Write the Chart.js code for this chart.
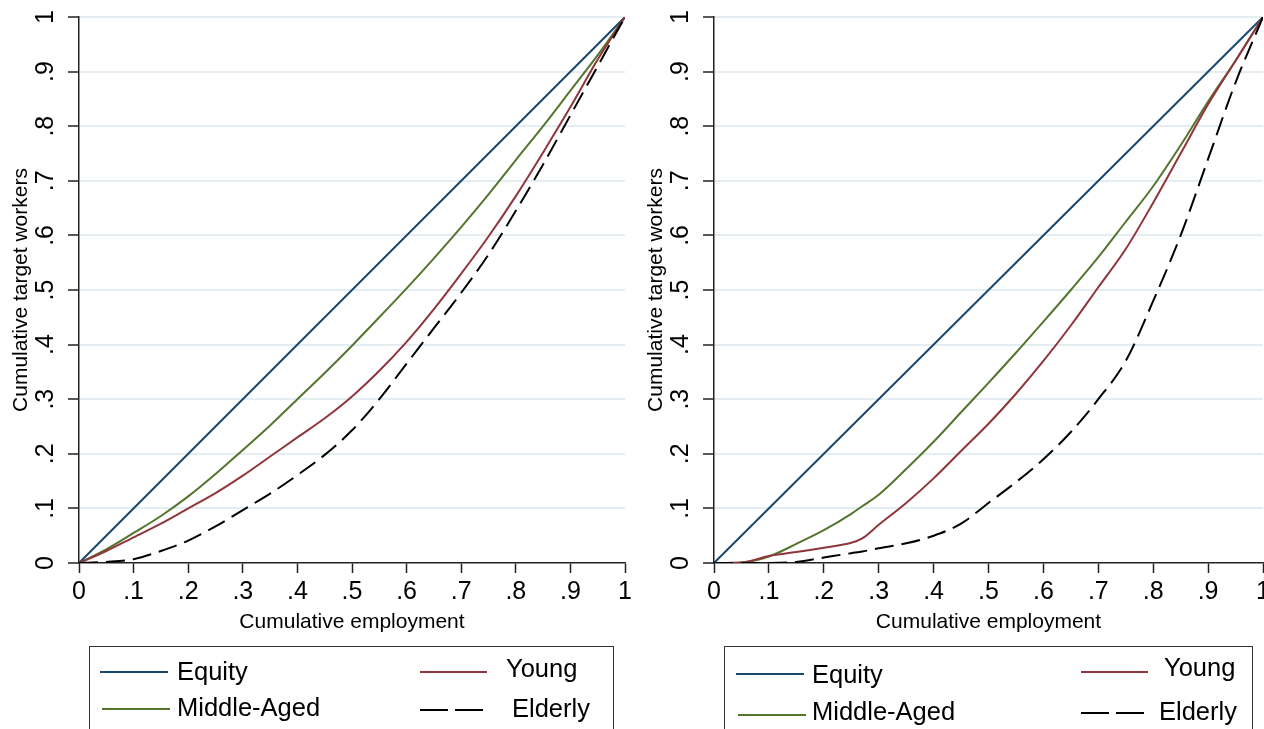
<!DOCTYPE html>
<html>
<head>
<meta charset="utf-8">
<script src="https://cdn.jsdelivr.net/npm/chart.js@4.4.1/dist/chart.umd.min.js"></script>
<style>
  html, body { margin: 0; padding: 0; background: #fff; width: 1264px; height: 729px; overflow: hidden; position: relative; }
  canvas { position: absolute; top: 0; }
  .legend { position: absolute; top: 646px; height: 110px; border: 1.5px solid #333; box-sizing: border-box; }
  .lab { position: absolute; font-family: "Liberation Sans", Arial, Helvetica, sans-serif; font-size: 25.5px; line-height: 25px; color: #000; white-space: nowrap; }
  #swatches { position: absolute; left: 0; top: 0; }
</style>
</head>
<body>
<canvas id="left" width="640" height="640" style="left:0px"></canvas>
<canvas id="right" width="640" height="640" style="left:635px"></canvas>
<div class="legend" style="left:89px;width:525px"></div>
<div class="legend" style="left:724px;width:529px"></div>
<svg id="swatches" width="1264" height="729"></svg>

<script>
// ---- datos ----
const tickValues = [0, .1, .2, .3, .4, .5, .6, .7, .8, .9, 1];
const tickLabels = ["0", ".1", ".2", ".3", ".4", ".5", ".6", ".7", ".8", ".9", "1"];
const xTitle = "Cumulative employment";
const yTitle = "Cumulative target workers";

const seriesNames = ["Equity", "Middle-Aged", "Young", "Elderly"];

const equityX = [0, 1];
const equityY = [0, 1];

// panel izquierdo
const leftX       = [0, .05, .1, .15, .2, .25, .3, .35, .4, .45, .5, .55, .6, .65, .7, .75, .8, .85, .9, .95, 1];
const leftMiddle  = [0, .025, .055, .086, .122, .163, .207, .252, .3, .348, .398, .45, .503, .558, .615, .675, .738, .8, .865, .93, 1];
const leftYoung   = [0, .022, .047, .072, .1, .128, .16, .195, .23, .265, .305, .352, .405, .465, .53, .598, .672, .752, .835, .922, 1];
const leftElderly = [0, .002, .007, .022, .041, .067, .097, .127, .161, .198, .243, .3, .365, .43, .495, .565, .645, .73, .82, .91, 1];

// panel derecho
const rightX       = [0, .05, .1, .15, .2, .25, .27, .3, .35, .4, .45, .5, .55, .6, .65, .7, .75, .8, .85, .9, .95, 1];
const rightMiddle  = [0, .001, .012, .035, .06, .09, .104, .125, .172, .222, .276, .33, .385, .442, .5, .56, .625, .69, .765, .845, .92, 1];
const rightYoung   = [0, .001, .013, .02, .028, .037, .045, .07, .11, .155, .205, .255, .31, .37, .435, .505, .575, .66, .75, .84, .92, 1];
const rightElderly = [0, 0, 0, .002, .01, .018, .021, .027, .036, .05, .072, .11, .148, .19, .24, .3, .37, .48, .6, .74, .88, 1];

// ---- estilo ----
const FONT = '"Liberation Sans", Arial, Helvetica, sans-serif';
const COLORS = ["#1a476f", "#55752f", "#90353b", "#000000"];
const DASHES = [[], [], [], [19, 8]];
const AXIS = "#222";
const GRID = "#e4eef2";

function pts(xs, ys){ return xs.map((x, i) => ({ x, y: ys[i] })); }

// etiquetas del eje y rotadas (estilo Stata)
const yTickText = {
  id: "yTickText",
  afterDraw(chart){
    const s = chart.scales.y, ctx = chart.ctx;
    ctx.save();
    ctx.font = "25px " + FONT;
    ctx.fillStyle = "#000";
    ctx.textAlign = "center";
    ctx.textBaseline = "alphabetic";
    tickValues.forEach((v, i) => {
      ctx.save();
      ctx.translate(s.right - 26, s.getPixelForValue(v));
      ctx.rotate(-Math.PI / 2);
      ctx.fillText(tickLabels[i], 0, 0);
      ctx.restore();
    });
    ctx.restore();
  }
};

function setTicks(scale){ scale.ticks = tickValues.map(v => ({ value: v })); }

function makeChart(id, xs, middle, young, elderly, padRight){
  const ys = [equityY, middle, young, elderly];
  const datasets = [3, 2, 1, 0].map(k => ({
    label: seriesNames[k],
    data: k === 0 ? pts(equityX, equityY) : pts(xs, ys[k]),
    borderColor: COLORS[k],
    borderDash: DASHES[k],
    borderWidth: 2,
    pointRadius: 0,
    fill: false,
    cubicInterpolationMode: "monotone"
  }));

  return new Chart(document.getElementById(id), {
    type: "line",
    data: { datasets },
    options: {
      responsive: false,
      animation: false,
      devicePixelRatio: 1,
      layout: { padding: { top: 17, right: padRight, left: 0, bottom: 0 } },
      plugins: { legend: { display: false }, tooltip: { enabled: false } },
      scales: {
        x: {
          type: "linear", min: 0, max: 1,
          afterBuildTicks: setTicks,
          afterFit: s => { s.height = 77; },
          grid: { drawOnChartArea: false, drawTicks: true, tickLength: 10, tickColor: AXIS, tickWidth: 1.5 },
          border: { display: true, color: AXIS, width: 1.5 },
          ticks: { autoSkip: false, maxRotation: 0, minRotation: 0, padding: 4, color: "#000",
                   font: { family: FONT, size: 25 }, callback: (v, i) => tickLabels[i] },
          title: { display: true, text: xTitle, color: "#000", font: { family: FONT, size: 21 },
                   padding: { top: 0, bottom: 5 } }
        },
        y: {
          type: "linear", min: 0, max: 1,
          afterBuildTicks: setTicks,
          afterFit: s => { s.width = 79; },
          grid: { color: c => (c.tick && c.tick.value === 0) ? "rgba(0,0,0,0)" : GRID,
                  lineWidth: 2, drawTicks: true, tickLength: 11, tickColor: AXIS, tickWidth: 1.5 },
          border: { display: true, color: AXIS, width: 1.5 },
          ticks: { display: false },
          title: { display: true, text: yTitle, color: "#000", font: { family: FONT, size: 21 },
                   padding: { top: 9, bottom: 0 } }
        }
      }
    },
    plugins: [yTickText]
  });
}

makeChart("left", leftX, leftMiddle, leftYoung, leftElderly, 15);
makeChart("right", rightX, rightMiddle, rightYoung, rightElderly, 12);

// ---- leyendas (HTML) ----
const legendItems = [
  // panel izquierdo
  { k: 0, x1: 100, x2: 168, y: 672, tx: 177, ty: 659 },
  { k: 1, x1: 102, x2: 170, y: 709, tx: 177, ty: 695 },
  { k: 2, x1: 420, x2: 487, y: 672, tx: 506, ty: 656 },
  { k: 3, x1: 420, x2: 487, y: 710, tx: 512, ty: 696 },
  // panel derecho
  { k: 0, x1: 736, x2: 804, y: 674, tx: 812, ty: 662 },
  { k: 1, x1: 738, x2: 806, y: 715, tx: 812, ty: 699 },
  { k: 2, x1: 1081, x2: 1148, y: 672, tx: 1164, ty: 655 },
  { k: 3, x1: 1081, x2: 1148, y: 713, tx: 1159, ty: 699 }
];
const svg = document.getElementById("swatches");
legendItems.forEach(it => {
  const ln = document.createElementNS("http://www.w3.org/2000/svg", "line");
  ln.setAttribute("x1", it.x1); ln.setAttribute("x2", it.x2);
  ln.setAttribute("y1", it.y); ln.setAttribute("y2", it.y);
  ln.setAttribute("stroke", COLORS[it.k]);
  ln.setAttribute("stroke-width", 2);
  if (it.k === 3) ln.setAttribute("stroke-dasharray", "28 7");
  svg.appendChild(ln);
  const d = document.createElement("div");
  d.className = "lab";
  d.style.left = it.tx + "px";
  d.style.top = it.ty + "px";
  d.textContent = seriesNames[it.k];
  document.body.appendChild(d);
});
</script>
</body>
</html>
